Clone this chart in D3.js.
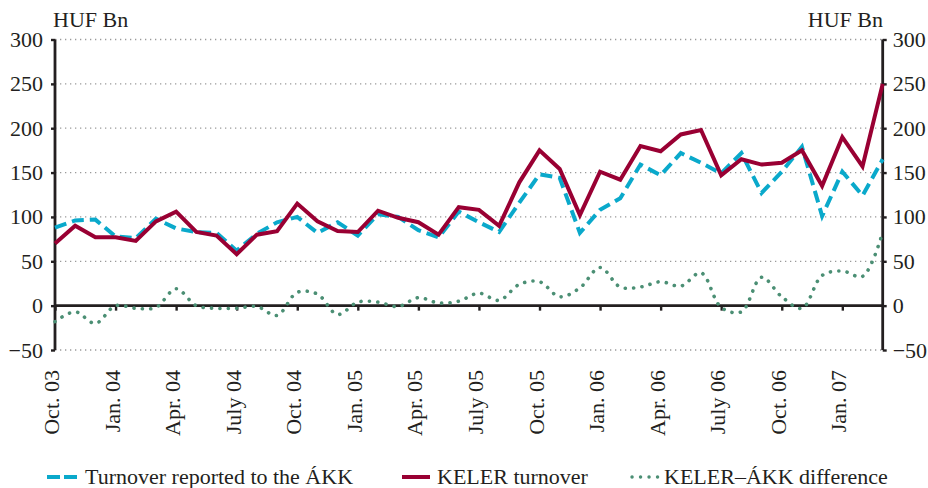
<!DOCTYPE html>
<html>
<head>
<meta charset="utf-8">
<script src="https://cdn.jsdelivr.net/npm/d3@7"></script>
<style>
  html, body { margin: 0; padding: 0; background: #fff; }
  svg text { font-family: "Liberation Serif", "DejaVu Serif", serif; fill: #231f20; }
</style>
</head>
<body>
<svg id="chart" width="928" height="488"></svg>
<script>
// ---------- DATA ----------
const months = [
  "2003-10","2003-11","2003-12","2004-01","2004-02","2004-03","2004-04","2004-05","2004-06","2004-07",
  "2004-08","2004-09","2004-10","2004-11","2004-12","2005-01","2005-02","2005-03","2005-04","2005-05",
  "2005-06","2005-07","2005-08","2005-09","2005-10","2005-11","2005-12","2006-01","2006-02","2006-03",
  "2006-04","2006-05","2006-06","2006-07","2006-08","2006-09","2006-10","2006-11","2006-12","2007-01",
  "2007-02","2007-03"
];
const akkTurnover = [88, 96, 97, 78, 76, 98, 87, 83, 82, 62, 81, 94, 100, 82, 94, 79, 103, 100, 85, 77,
  106, 94, 83, 116, 148, 144, 82, 108, 121, 159, 147, 172, 161, 149, 172, 127, 151, 179, 101, 151, 124, 165];
const kelerTurnover = [70, 90, 77, 77, 73, 95, 106, 83, 79, 58, 80, 84, 115, 95, 84, 83, 107, 99, 94, 80,
  111, 108, 90, 139, 175, 154, 102, 151, 142, 180, 174, 193, 198, 147, 165, 159, 161, 175, 135, 190, 157, 250];
const difference = [-18, -7, -20, 0, -3, -2, 19, 0, -3, -3, -1, -11, 15, 13, -10, 4, 4, -1, 9, 3,
  5, 14, 6, 24, 27, 10, 20, 43, 21, 21, 27, 22, 37, -2, -7, 32, 10, -3, 34, 39, 33, 83];
const tickMonths = ["2003-10","2004-01","2004-04","2004-07","2004-10","2005-01","2005-04","2005-07",
  "2005-10","2006-01","2006-04","2006-07","2006-10","2007-01"];
const tickLabels = ["Oct. 03","Jan. 04","Apr. 04","July 04","Oct. 04","Jan. 05","Apr. 05","July 05",
  "Oct. 05","Jan. 06","Apr. 06","July 06","Oct. 06","Jan. 07"];
const yTicks = [-50, 0, 50, 100, 150, 200, 250, 300];
const unitLabel = "HUF Bn";
const seriesNames = ["Turnover reported to the ÁKK", "KELER turnover", "KELER–ÁKK difference"];

// ---------- LAYOUT ----------
const pL = 55, pR = 882.7, pT = 39.5, pB = 350;
const colBlue = "#0aa9cb", colRed = "#990033", colGreen = "#4b8f74", ink = "#231f20";
const fs = 22;

const svg = d3.select("#chart");
const x = d3.scalePoint().domain(months).range([pL, pR]);
const y = d3.scaleLinear().domain([-50, 300]).range([pB, pT]);

// grid lines (dotted)
svg.append("g").selectAll("line")
  .data(yTicks.filter(v => v !== 0))
  .join("line")
  .attr("x1", pL).attr("x2", pR)
  .attr("y1", d => y(d)).attr("y2", d => y(d))
  .attr("stroke", "#9a9a9a").attr("stroke-width", 1.3)
  .attr("stroke-dasharray", "1.3 3.7");

const fmt = d => (d < 0 ? "\u2212" + Math.abs(d) : String(d));

// left axis
const leftAxis = d3.axisLeft(y).tickValues(yTicks).tickSize(4).tickPadding(8).tickFormat(fmt);
const gl = svg.append("g").attr("transform", `translate(${pL},0)`).call(leftAxis);
// right axis
const rightAxis = d3.axisRight(y).tickValues(yTicks).tickSize(4).tickPadding(6).tickFormat(fmt);
const gr = svg.append("g").attr("transform", `translate(${pR},0)`).call(rightAxis);
[gl, gr].forEach(g => {
  g.select(".domain").attr("stroke", ink).attr("stroke-width", 2.8).attr("d", `M0,${pT}V${pB}`);
  g.selectAll(".tick line").attr("stroke", ink).attr("stroke-width", 2.4);
  g.selectAll(".tick text").attr("font-size", fs).attr("fill", ink)
    .style("font-family", '"Liberation Serif", serif');
});

// zero line with bottom ticks
const xAxis = d3.axisBottom(x).tickValues(tickMonths).tickSize(5).tickFormat("");
const gx = svg.append("g").attr("transform", `translate(0,${y(0)})`).call(xAxis);
gx.select(".domain").attr("stroke", ink).attr("stroke-width", 2.6).attr("d", `M${pL},0H${pR}`);
gx.selectAll(".tick line").attr("stroke", ink).attr("stroke-width", 2.4);

// x labels rotated
svg.append("g").selectAll("text")
  .data(tickMonths)
  .join("text")
  .attr("transform", (d) => `translate(${x(d) + 4},370) rotate(-90)`)
  .attr("text-anchor", "end")
  .attr("font-size", fs)
  .text((d, i) => tickLabels[i]);

// unit labels
svg.append("text").attr("x", 53).attr("y", 27).attr("font-size", fs).text(unitLabel);
svg.append("text").attr("x", 883).attr("y", 27).attr("font-size", fs).attr("text-anchor", "end").text(unitLabel);

// series
const lineGen = d3.line().x((d, i) => x(months[i])).y(d => y(d));
svg.append("path").datum(akkTurnover)
  .attr("d", lineGen).attr("fill", "none")
  .attr("stroke", colBlue).attr("stroke-width", 4)
  .attr("stroke-dasharray", "12 6");
svg.append("path").datum(kelerTurnover)
  .attr("d", lineGen).attr("fill", "none")
  .attr("stroke", colRed).attr("stroke-width", 4).attr("stroke-linejoin", "miter");
const smooth = d3.line().x((d, i) => x(months[i])).y(d => y(d)).curve(d3.curveCatmullRom.alpha(0.5));
svg.append("path").datum(difference)
  .attr("d", smooth).attr("fill", "none")
  .attr("stroke", colGreen).attr("stroke-width", 3.6)
  .attr("stroke-linecap", "round").attr("stroke-dasharray", "0.1 8.3");

// legend
const ly = 477, lb = 484;
const lg = svg.append("g");
lg.append("line").attr("x1", 47).attr("x2", 77).attr("y1", ly).attr("y2", ly)
  .attr("stroke", colBlue).attr("stroke-width", 4).attr("stroke-dasharray", "13 4");
lg.append("text").attr("x", 85).attr("y", lb).attr("font-size", fs).text(seriesNames[0]);
lg.append("line").attr("x1", 402).attr("x2", 430).attr("y1", ly).attr("y2", ly)
  .attr("stroke", colRed).attr("stroke-width", 4);
lg.append("text").attr("x", 437).attr("y", lb).attr("font-size", fs).text(seriesNames[1]);
lg.append("line").attr("x1", 632).attr("x2", 658).attr("y1", ly).attr("y2", ly)
  .attr("stroke", colGreen).attr("stroke-width", 3.4).attr("stroke-linecap", "round")
  .attr("stroke-dasharray", "0.1 8.4");
lg.append("text").attr("x", 664).attr("y", lb).attr("font-size", fs).text(seriesNames[2]);
</script>
</body>
</html>
